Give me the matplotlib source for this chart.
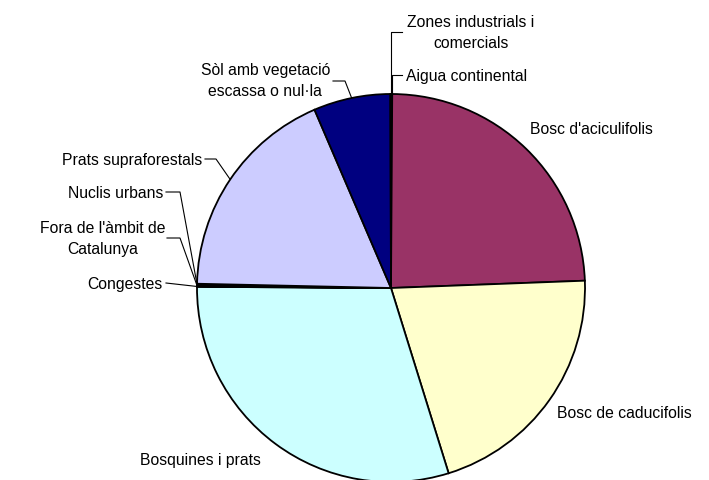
import matplotlib
matplotlib.use("Agg")
import matplotlib.pyplot as plt
import numpy as np

plt.rcParams['font.family'] = ['Liberation Sans', 'DejaVu Sans']

# land cover shares (%), clockwise from 12 o'clock
labels = ["Aigua continental", "Bosc d'aciculifolis", "Bosc de caducifolis",
          "Bosquines i prats", "Congestes", "Fora de l'àmbit de\nCatalunya",
          "Nuclis urbans", "Prats supraforestals",
          "Sòl amb vegetació\nescassa o nul·la", "Zones industrials i\ncomercials"]
values = [0.1, 24.3, 20.8, 29.9, 0.05, 0.1, 0.1, 18.2, 6.4, 0.05]
colors = ["#9999FF", "#993366", "#FFFFCC", "#CCFFFF", "#660066",
          "#FF8080", "#0066CC", "#CCCCFF", "#000080", "#FF00FF"]

W, H = 709, 481

def px(x, y):
    # pixel coords (y down) -> data coords (y up)
    return x, H - y

# label placement: text position, alignment, leader points after the wedge edge
layout = {
    "Aigua continental": ((406, 76), "left", [("v", 76), (402, 76)]),
    "Bosc d'aciculifolis": ((530, 130), "left", None),
    "Bosc de caducifolis": ((557, 414), "left", None),
    "Bosquines i prats": ((140, 461), "left", None),
    "Congestes": ((163, 284), "right", [(166, 284)]),
    "Fora de l'àmbit de\nCatalunya": ((165, 239), "right", [(180, 239), (167, 239)]),
    "Nuclis urbans": ((163, 193), "right", [(180, 193), (166, 193)]),
    "Prats supraforestals": ((202, 160), "right", [(216, 160), (205, 160)]),
    "Sòl amb vegetació\nescassa o nul·la": ((330, 81), "right", [(345, 82), (333, 82)]),
    "Zones industrials i\ncomercials": ((407, 33), "left", [("v", 33), (402, 33)]),
}

fig = plt.figure(figsize=(W / 100, H / 100), dpi=100)
ax = fig.add_axes([0, 0, 1, 1])

cx, cy = px(391, 289)
r = 194
wedges, _ = ax.pie(values, colors=colors, startangle=90, counterclock=False,
                   center=(cx, cy), radius=r,
                   wedgeprops=dict(edgecolor="black", linewidth=1.3))

for w, lab in zip(wedges, labels):
    (tx, ty), ha, leader = layout[lab]
    ax.text(*px(tx, ty), lab, ha=ha, va="center", multialignment="center",
            fontsize=11.3, color="black", linespacing=1.5)
    if leader:
        mid = np.deg2rad((w.theta1 + w.theta2) / 2)
        ex, ey = cx + r * np.cos(mid), cy + r * np.sin(mid)
        xs, ys = [ex], [ey]
        for p in leader:
            if p[0] == "v":
                xs.append(ex)
                ys.append(H - p[1])
            else:
                xs.append(p[0])
                ys.append(H - p[1])
        ax.plot(xs, ys, color="black", linewidth=0.8)

ax.set_xlim(0, W)
ax.set_ylim(0, H)
ax.set_aspect("equal")
ax.axis("off")

fig.savefig("out.png", dpi=100)
